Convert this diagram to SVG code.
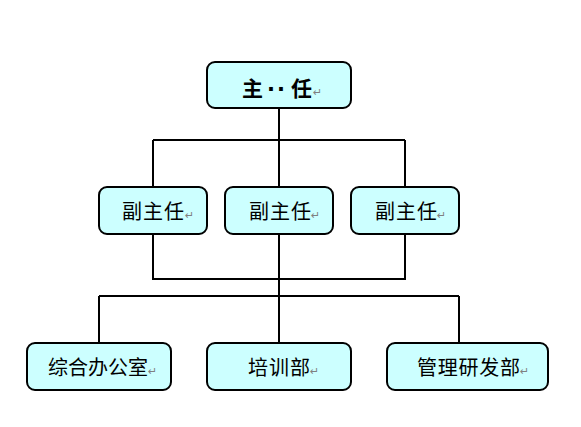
<svg xmlns="http://www.w3.org/2000/svg" width="581" height="427" viewBox="0 0 581 427">
<style>
.box{fill:#CCFFFF;stroke:#000;stroke-width:2}
.t{font-family:"Noto Sans CJK SC","Noto Sans CJK JP",sans-serif;font-size:20px;fill:#000}
.b{font-weight:bold;font-size:21px}
.d{font-family:"DejaVu Sans",sans-serif}
.r{font-family:"DejaVu Sans",sans-serif;font-size:11px;fill:#808080}
.c{fill:none;stroke:#000;stroke-width:2}
</style>
<rect width="581" height="427" fill="#fff"/>
<g id="connectors">
<path class="c" d="M279 108V343M153 140H405M153 140V187M405 140V187M153 234V279H405V234M99 296H459M99 296V343M459 296V343"/>
</g>
<g id="director">
<rect class="box" x="207" y="62" width="144" height="46" rx="8"/>
<text class="t b" y="96"><tspan x="242">主</tspan><tspan class="d" x="267">·</tspan><tspan class="d" x="277">·</tspan><tspan x="291">任</tspan></text>
<text class="r" x="313" y="96">↵</text>
</g>
<g id="deputy1">
<rect class="box" x="99" y="187" width="108" height="47" rx="8"/>
<text class="t" x="122" y="219" textLength="62">副主任</text>
<text class="r" x="185" y="219">↵</text>
</g>
<g id="deputy2">
<rect class="box" x="225" y="187" width="108" height="47" rx="8"/>
<text class="t" x="249" y="219" textLength="62">副主任</text>
<text class="r" x="311" y="219">↵</text>
</g>
<g id="deputy3">
<rect class="box" x="351" y="187" width="108" height="47" rx="8"/>
<text class="t" x="375" y="219" textLength="62">副主任</text>
<text class="r" x="437" y="219">↵</text>
</g>
<g id="office">
<rect class="box" x="27" y="343" width="144" height="47" rx="8"/>
<text class="t" x="48" y="375" textLength="100">综合办公室</text>
<text class="r" x="148" y="375">↵</text>
</g>
<g id="training">
<rect class="box" x="207" y="343" width="144" height="47" rx="8"/>
<text class="t" x="248" y="375" textLength="62">培训部</text>
<text class="r" x="310" y="375">↵</text>
</g>
<g id="research">
<rect class="box" x="387" y="343" width="161" height="47" rx="8"/>
<text class="t" x="417" y="375" textLength="103">管理研发部</text>
<text class="r" x="520" y="375">↵</text>
</g>
</svg>
